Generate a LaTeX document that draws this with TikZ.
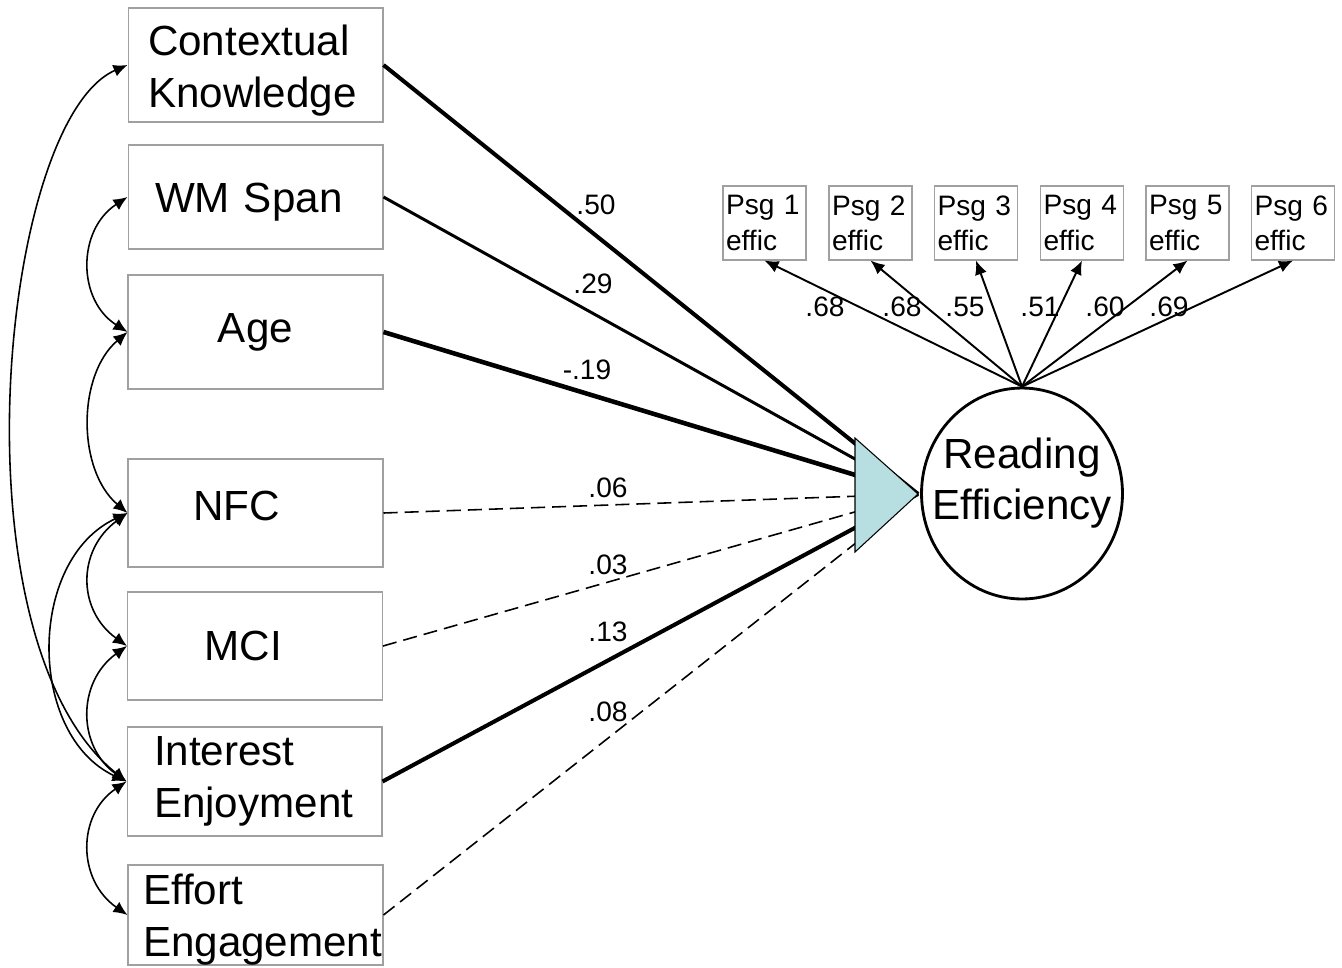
\documentclass[tikz,border=0pt]{standalone}
\usepackage{fontspec}
\setmainfont{Liberation Sans}
\usetikzlibrary{arrows.meta,shapes.geometric}
\definecolor{boxgray}{RGB}{160,160,160}
\definecolor{triblue}{RGB}{183,222,224}

\begin{document}
\begin{tikzpicture}[x=0.02cm,y=-0.02cm,
    varbox/.style={draw=boxgray,line width=0.6pt,inner ysep=0pt,align=left,
        font=\fontsize{24}{29.5}\selectfont},
    psgbox/.style={draw=boxgray,line width=0.6pt,inner ysep=0pt,inner xsep=0.06cm,
        text width=1.54cm,minimum height=1.48cm,align=left,
        font=\fontsize{16}{20}\selectfont},
    coef/.style={inner sep=0pt,font=\fontsize{16}{19}\selectfont},
    effect/.style={line width=#1},
    weak/.style={line width=0.9pt,dash pattern=on 8pt off 4pt},
    cov/.style={<->,line width=0.9pt,>={Latex[length=8pt,width=7pt]}},
    load/.style={->,line width=1.1pt,>={Latex[length=8pt,width=7pt]}}]
\useasboundingbox (0,0) rectangle (1342,967);

% predictors
\node[varbox,inner xsep=0.4cm,text width=4.3cm,minimum height=2.28cm,text height=23.4pt] (ck) at (255.5,65) {Contextual\\Knowledge};
\node[varbox,inner xsep=0.54cm,text width=4.02cm,minimum height=2.08cm,text height=23pt] (wm) at (255.5,197) {WM Span};
\node[varbox,inner xsep=0cm,text width=5.1cm,minimum height=2.28cm,align=center] (age) at (255.5,332) {Age};
\node[varbox,inner xsep=1.3cm,text width=2.5cm,minimum height=2.16cm,text depth=8pt] (nfc) at (255.5,513) {NFC};
\node[varbox,inner xsep=1.54cm,text width=2.02cm,minimum height=2.16cm] (mci) at (255,646) {MCI};
\node[varbox,inner xsep=0.54cm,text width=4.02cm,minimum height=2.18cm] (ie) at (254.5,781.5) {Interest\\Enjoyment};
\node[varbox,inner xsep=0.3cm,text width=4.5cm,minimum height=2.0cm,text height=22.4pt] (ee) at (255.5,915) {Effort\\\mbox{Engagement}};

% latent factor
\node[ellipse,draw,line width=1.6pt,inner sep=0pt,minimum width=4.02cm,minimum height=4.22cm] (re) at (1022,493.5) {};
\node[align=center,font=\fontsize{24}{29}\selectfont] (retxt) at (1022,483) {Reading\\Efficiency};
\coordinate (tip) at (918,494);

% passage indicators
\foreach \i/\x/\lx/\v in {1/764.5/825/.68, 2/870.5/902/.68, 3/976/965/.55,
                          4/1082/1040/.51, 5/1187.5/1105/.60, 6/1293/1169/.69}{
    \node[psgbox] (p\i) at (\x,223) {Psg \i\\effic};
    \draw[load] (re.north) -- (p\i.south);
    \node[coef] (l\i) at (\lx,307) {\v};
}

% structural paths
\draw[effect=2.3pt] (ck.east) -- (tip);
\draw[effect=1.7pt] (wm.east) -- (tip);
\draw[effect=2.6pt] (age.east) -- (tip);
\draw[weak] (nfc.east) -- (tip);
\draw[weak] (mci.east) -- (tip);
\draw[effect=2.3pt] (ie.east) -- (tip);
\draw[weak] (ee.east) -- (tip);
\filldraw[fill=triblue,draw=black,line width=0.6pt] (855,438) -- (tip) -- (855,552) -- cycle;

\node[coef] (c1) at (596,205) {.50};
\node[coef] (c2) at (593,284) {.29};
\node[coef] (c3) at (587,370) {-.19};
\node[coef] (c4) at (608,488) {.06};
\node[coef] (c5) at (608,565) {.03};
\node[coef] (c6) at (608,632) {.13};
\node[coef] (c7) at (608,712) {.08};

% correlations
\draw[cov] (ck.west) .. controls (0,120) and (-50,640) .. (ie.west);
\draw[cov] (wm.west) .. controls (77,230) and (77,300) .. (age.west);
\draw[cov] (age.west) .. controls (77,375) and (77,470) .. (nfc.west);
\draw[cov] (nfc.west) .. controls (77,550) and (77,610) .. (mci.west);
\draw[cov] (mci.west) .. controls (77,682) and (77,746) .. (ie.west);
\draw[cov] (ie.west) .. controls (77,815) and (77,880) .. (ee.west);
\draw[cov] (nfc.west) .. controls (27,560) and (27,735) .. (ie.west);
\end{tikzpicture}
\end{document}
